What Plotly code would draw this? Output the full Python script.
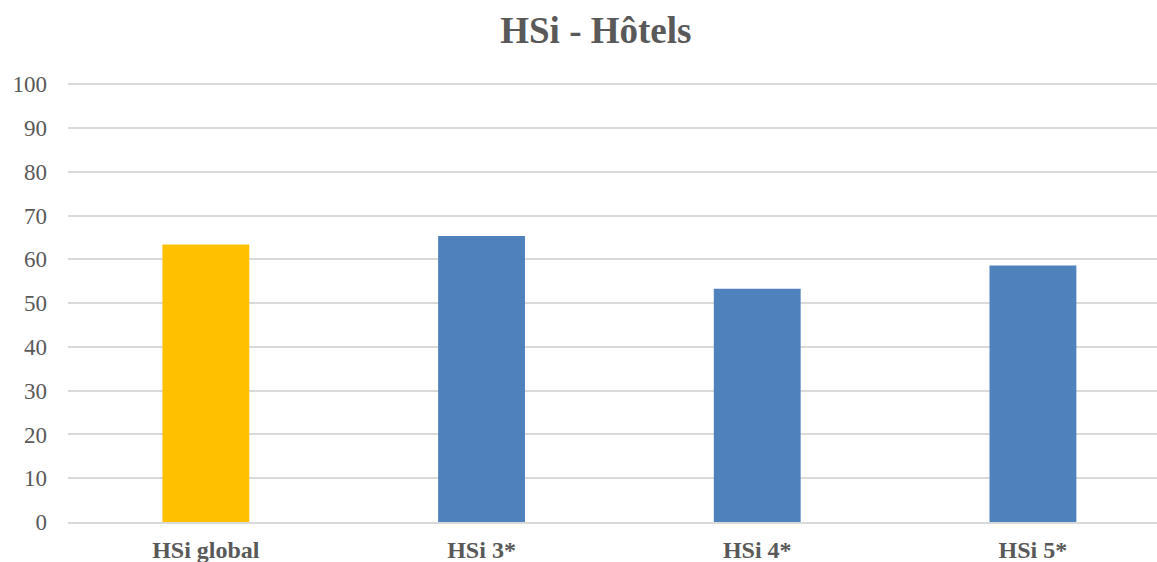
import plotly.graph_objects as go

categories = ["HSi global", "HSi 3*", "HSi 4*", "HSi 5*"]
values = [63.4, 65.3, 53.3, 58.6]
bar_colors = ["#FFC000", "#4F81BD", "#4F81BD", "#4F81BD"]
y_ticks = [0, 10, 20, 30, 40, 50, 60, 70, 80, 90, 100]

fig = go.Figure(
    go.Bar(
        x=categories,
        y=values,
        marker=dict(color=bar_colors, line=dict(width=0)),
        width=0.315,
    )
)

fig.update_layout(
    width=1157,
    height=562,
    paper_bgcolor="white",
    plot_bgcolor="white",
    margin=dict(l=68, r=0, t=82, b=40),
    showlegend=False,
    title=dict(
        text="<b>HSi - Hôtels</b>",
        x=0.515,
        xanchor="center",
        y=0.947,
        yanchor="middle",
        font=dict(family="Liberation Serif", size=37, color="#595959"),
    ),
    font=dict(family="Liberation Serif", color="#595959"),
)

fig.update_xaxes(
    range=[-0.5, 3.45],
    automargin=False,
    showgrid=False,
    showline=True,
    linecolor="#d9d9d9",
    linewidth=2,
    tickfont=dict(family="Liberation Serif", size=24, color="#595959"),
    ticklabelstandoff=5,
    tickprefix="<b>",
    ticksuffix="</b>",
)

# small headroom above 100 so the top gridline stays visible
fig.update_yaxes(
    range=[0, 100.5],
    automargin=False,
    tickvals=y_ticks,
    showgrid=True,
    gridcolor="#d9d9d9",
    gridwidth=2,
    zeroline=False,
    tickfont=dict(family="Liberation Serif", size=23, color="#595959"),
    ticklabelstandoff=20,
)

fig.write_html("out.html")
